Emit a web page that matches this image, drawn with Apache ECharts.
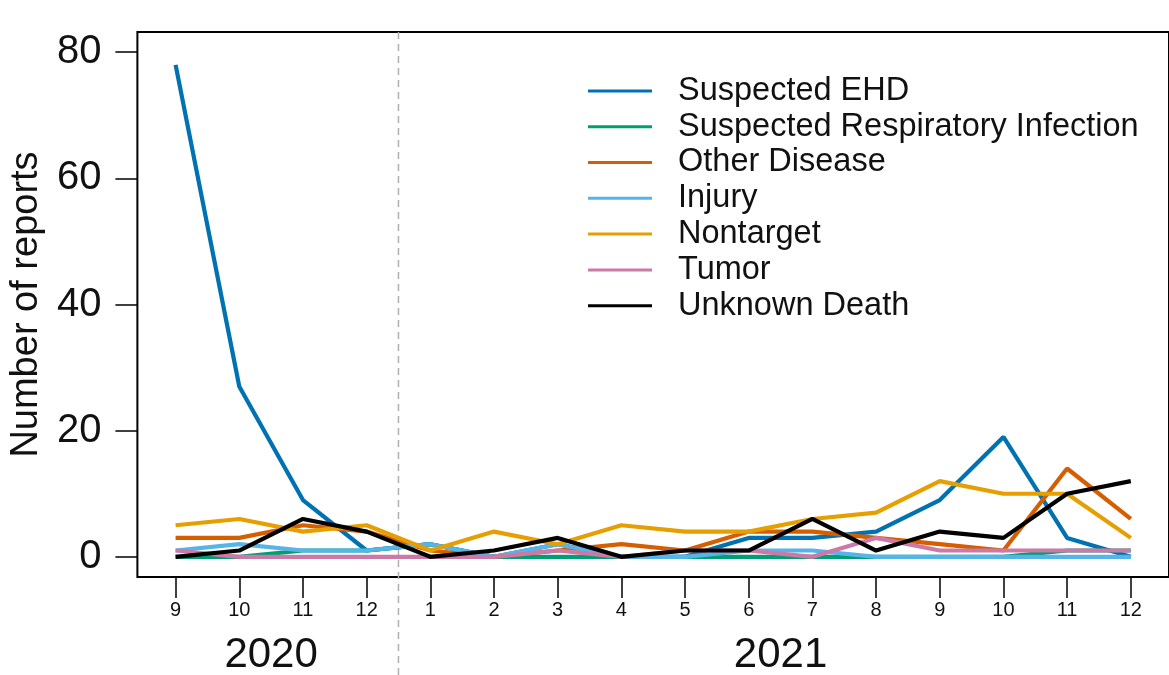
<!DOCTYPE html>
<html>
<head>
<meta charset="utf-8">
<script src="https://cdn.jsdelivr.net/npm/echarts@6/dist/echarts.min.js"></script>
<style>
html,body{margin:0;padding:0;background:#fff;}
#chart{width:1169px;height:675px;}
</style>
</head>
<body>
<div id="chart"></div>
<script>
// ---- data ----
const monthLabels = ['9','10','11','12','1','2','3','4','5','6','7','8','9','10','11','12'];
const yearLabels = ['2020', '2021'];
const yTicks = [0, 20, 40, 60, 80];
const seriesNames = ['Suspected EHD','Suspected Respiratory Infection','Other Disease','Injury','Nontarget','Tumor','Unknown Death'];
const suspectedEHD   = [78, 27, 9, 1, 2, 0, 2, 0, 0, 3, 3, 4, 9, 19, 3, 0];
const respiratory    = [0, 0, 1, 1, 2, 0, 0, 0, 0, 0, 0, 0, 0, 0, 1, 1];
const otherDisease   = [3, 3, 5, 4, 1, 0, 1, 2, 1, 4, 4, 3, 2, 1, 14, 6];
const injury         = [1, 2, 1, 1, 2, 0, 2, 0, 0, 1, 1, 0, 0, 0, 0, 0];
const nontarget      = [5, 6, 4, 5, 1, 4, 2, 5, 4, 4, 6, 7, 12, 10, 10, 3];
const tumor          = [1, 0, 0, 0, 0, 0, 1, 0, 1, 1, 0, 3, 1, 1, 1, 1];
const unknownDeath   = [0, 1, 6, 4, 0, 1, 3, 0, 1, 1, 6, 1, 4, 3, 10, 12];
const colors = ['#0072B2', '#009E73', '#D55E00', '#56B4E9', '#E69F00', '#CC79A7', '#000000'];

const allValues = [suspectedEHD, respiratory, otherDisease, injury, nontarget, tumor, unknownDeath];
const FONT = 'Liberation Sans, Arial, Helvetica, sans-serif';

const chart = echarts.init(document.getElementById('chart'), null, {renderer: 'canvas'});
const xIdx = monthLabels.map((_, i) => i);

const option = {
  animation: false,
  backgroundColor: '#ffffff',
  grid: {
    left: 136, top: 32, right: -2, bottom: 98,
    show: true, borderColor: '#000', borderWidth: 2, backgroundColor: 'transparent'
  },
  legend: {
    orient: 'vertical',
    left: 583, top: 68,
    icon: 'rect',
    itemWidth: 64, itemHeight: 3, itemGap: 0,
    data: seriesNames,
    textStyle: {fontFamily: FONT, fontSize: 32.5, color: '#111', lineHeight: 35.8, padding: [0, 0, 0, 21]}
  },
  xAxis: {
    type: 'value',
    min: -0.6, max: 15.6,
    splitLine: {show: false},
    axisLine: {show: false, onZero: false},
    axisTick: {show: true, inside: false, customValues: xIdx, length: 21, lineStyle: {color: '#000', width: 1.5}},
    axisLabel: {
      customValues: xIdx, margin: 23,
      formatter: v => monthLabels[v],
      fontFamily: FONT, fontSize: 20, color: '#111'
    }
  },
  yAxis: {
    type: 'value',
    min: -3.2, max: 83.2,
    splitLine: {show: false},
    axisLine: {show: false, onZero: false},
    axisTick: {show: true, inside: false, customValues: yTicks, length: 22, lineStyle: {color: '#000', width: 1.5}},
    axisLabel: {
      customValues: yTicks, margin: 36,
      fontFamily: FONT, fontSize: 40, color: '#111'
    },
    name: 'Number of reports',
    nameLocation: 'middle',
    nameRotate: 90,
    nameGap: 90,
    nameTextStyle: {fontFamily: FONT, fontSize: 38, color: '#111'}
  },
  series: seriesNames.map((name, k) => ({
    name: name,
    type: 'line',
    data: allValues[k].map((v, i) => [i, v]),
    symbol: 'none',
    lineStyle: {width: 4.2, color: colors[k]},
    itemStyle: {color: colors[k]},
    z: 2 + k
  }))
};
chart.setOption(option);

// dashed year separator and year labels positioned through the axis scale
const sepX = chart.convertToPixel({xAxisIndex: 0}, 3.5);
const x2020 = chart.convertToPixel({xAxisIndex: 0}, 1.5);
const x2021 = chart.convertToPixel({xAxisIndex: 0}, 9.5);
const topY = chart.convertToPixel({yAxisIndex: 0}, 83.2);
chart.setOption({
  graphic: [
    {type: 'line', z: 1, shape: {x1: sepX, y1: topY, x2: sepX, y2: 675},
     style: {stroke: '#b0b0b0', lineWidth: 1.5, lineDash: [7, 5]}},
    {type: 'text', x: x2020, y: 655, style: {text: yearLabels[0], font: '42px ' + FONT, fill: '#111', align: 'center', verticalAlign: 'middle'}},
    {type: 'text', x: x2021, y: 655, style: {text: yearLabels[1], font: '42px ' + FONT, fill: '#111', align: 'center', verticalAlign: 'middle'}}
  ]
});
</script>
</body>
</html>
